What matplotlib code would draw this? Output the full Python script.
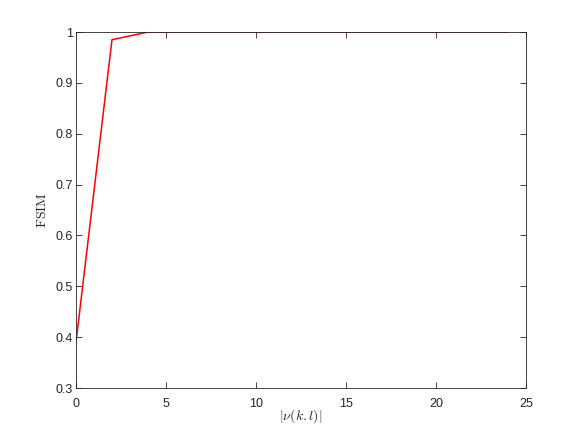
import matplotlib
matplotlib.use('Agg')
import matplotlib.pyplot as plt

# data
nu = [0, 2, 4, 6, 8, 10, 12, 14, 16, 18, 20, 22, 24]
fsim = [0.39, 0.985, 1.0, 1.0, 1.0, 1.0, 1.0, 1.0, 1.0, 1.0, 1.0, 1.0, 1.0]

plt.rcParams['font.family'] = 'Liberation Sans'
plt.rcParams['mathtext.fontset'] = 'cm'

fig = plt.figure(figsize=(5.81, 4.36), dpi=100)
ax = fig.add_axes([0.1308, 0.110, 0.7745, 0.8165])
ax.plot(nu, fsim, color='red', linewidth=1.1)

ax.set_xlim(0, 25)
ax.set_ylim(0.3, 1.0)
ax.set_xticks([0, 5, 10, 15, 20, 25])
ax.set_yticks([0.3, 0.4, 0.5, 0.6, 0.7, 0.8, 0.9, 1.0])
ax.set_yticklabels(['0.3', '0.4', '0.5', '0.6', '0.7', '0.8', '0.9', '1'])
ax.tick_params(direction='in', length=4, width=0.6, labelsize=9,
               top=True, right=True, colors='#262626', labelcolor='#262626')
ax.tick_params(axis='x', pad=7)
ax.tick_params(axis='y', pad=2)
for s in ax.spines.values():
    s.set_linewidth(0.6)
    s.set_color('#262626')

ax.set_xlabel(r'$|\nu(k.l)|$', fontsize=10, color='#262626', labelpad=-2)
ax.set_ylabel(r'$\mathrm{FSIM}$', fontsize=10, color='#262626', labelpad=5)

fig.savefig('out.png', dpi=100)
